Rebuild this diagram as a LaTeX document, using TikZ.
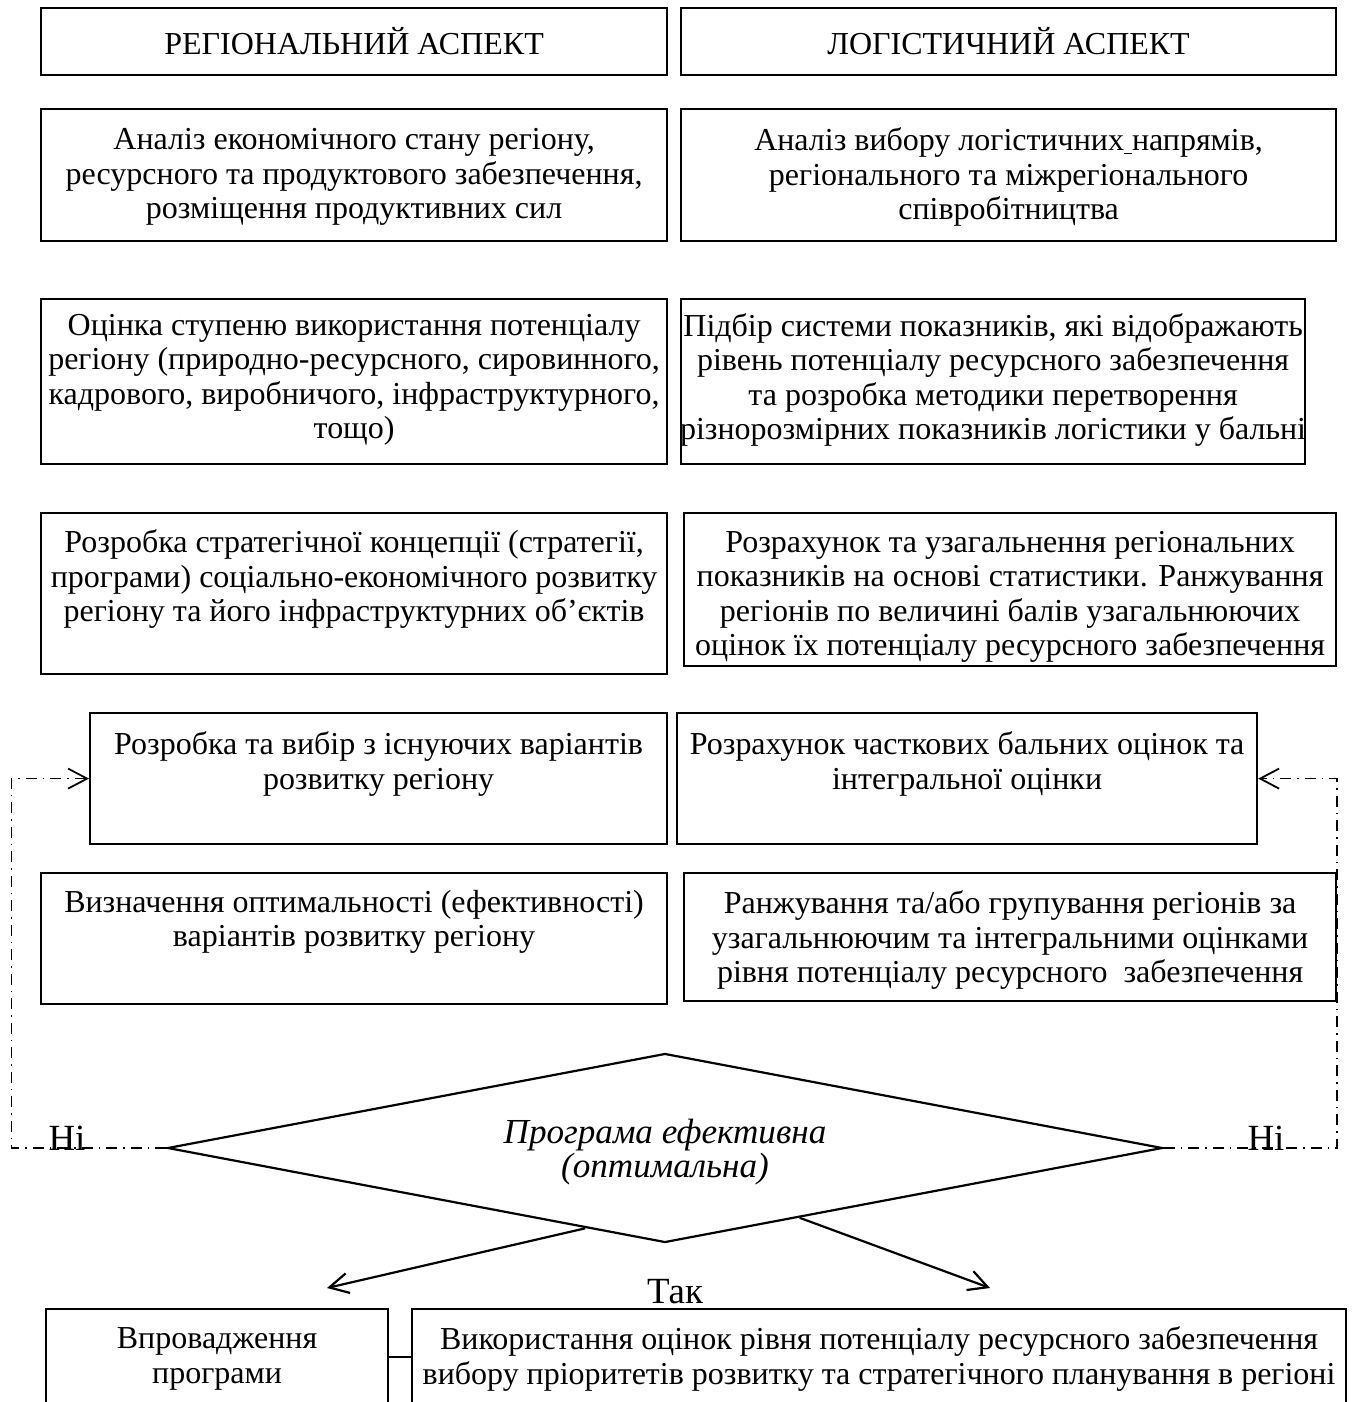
\documentclass[tikz,border=0pt]{standalone}
\usepackage{fontspec}
\setmainfont{Liberation Serif}
\usetikzlibrary{arrows.meta,calc,shapes.geometric}

\begin{document}
\begin{tikzpicture}[x=0.2mm, y=-0.2mm, line width=1.25pt,
        >={Straight Barb[length=3.8mm,width=4mm]},
        box/.style={draw, inner sep=0pt, anchor=north west},
        txt/.style={font=\fontsize{18.2}{19.6}\selectfont, align=center, inner sep=0pt},
        big/.style={font=\fontsize{21}{24}\selectfont, inner sep=0pt},
        fb/.style={line width=1pt, dash pattern=on 2.2mm off 1.2mm on 0.3mm off 1.2mm}]

    \useasboundingbox (0,0) rectangle (1352,1402);

    % --- ramki: nazwa / lewy górny róg / prawy dolny róg (w pikselach) ---
    \foreach \n/\xa/\ya/\xb/\yb in {%
        rl1/40/7/666/74,     rr1/680/7/1335/74,
        rl2/40/108/666/240,  rr2/680/108/1335/240,
        rl3/40/298/666/463,  rr3/680/298/1304/463,
        rl4/40/512/666/673,  rr4/683/512/1335/665,
        rl5/89/712/666/843,  rr5/676/712/1256/843,
        rl6/40/872/666/1003, rr6/683/872/1335/1000,
        bl/45/1308/387/1404, br/411/1308/1345/1404} {
        \node[box, minimum width={(\xb-\xa)*0.2mm}, minimum height={(\yb-\ya)*0.2mm}] (\n) at (\xa,\ya) {};
    }

    % --- aspekt regionalny ---
    \node[txt] (tl1) at (rl1.center) {РЕГІОНАЛЬНИЙ АСПЕКТ};
    \node[txt] (tl2) at ($(rl2.north)+(0,69)$) {Аналіз економічного стану регіону,\\ ресурсного та продуктового забезпечення,\\ розміщення продуктивних сил};
    \node[txt] (tl3) at ($(rl3.north)+(0,82)$) {Оцінка ступеню використання потенціалу\\ регіону (природно-ресурсного, сировинного,\\ кадрового, виробничого, інфраструктурного,\\ тощо)};
    \node[txt] (tl4) at ($(rl4.north)+(0,67)$) {Розробка стратегічної концепції (стратегії,\\ програми) соціально-економічного розвитку\\ регіону та його інфраструктурних об’єктів};
    \node[txt] (tl5) at ($(rl5.north)+(0,52)$) {Розробка та вибір з існуючих варіантів\\ розвитку регіону};
    \node[txt] (tl6) at ($(rl6.north)+(0,50)$) {Визначення оптимальності (ефективності)\\ варіантів розвитку регіону};

    % --- aspekt logistyczny ---
    \node[txt] (tr1) at (rr1.center) {ЛОГІСТИЧНИЙ АСПЕКТ};
    \node[txt] (tr2) at ($(rr2.north)+(0,69)$) {Аналіз вибору логістичних\underline{\ }напрямів,\\ регіонального та міжрегіонального\\ співробітництва};
    \node[txt] (tr3) at ($(rr3.north)+(0,82)$) {Підбір системи показників, які відображають\\ рівень потенціалу ресурсного забезпечення\\ та розробка методики перетворення\\ різнорозмірних показників логістики у бальні};
    \begin{scope}
        \clip (rr4.north west) rectangle (rr4.south east);
        \node[txt] (tr4) at ($(rr4.north)+(0,85)$) {Розрахунок та узагальнення регіональних\\ показників на основі статистики. Ранжування\\ регіонів по величині балів узагальнюючих\\ оцінок їх потенціалу ресурсного забезпечення};
    \end{scope}
    \node[txt] (tr5) at ($(rr5.north)+(0,52)$) {Розрахунок часткових бальних оцінок та\\ інтегральної оцінки};
    \node[txt] (tr6) at ($(rr6.north)+(0,68)$) {Ранжування та/або групування регіонів за\\ узагальнюючим та інтегральними оцінками\\ рівня потенціалу ресурсного\ \ забезпечення};

    % --- warunek ---
    \node[draw, diamond, shape aspect=5.26, minimum width=199mm, minimum height=37.8mm,
          inner sep=0pt] (romb) at (665,1148) {};
    \node[txt, font=\fontsize{20}{19.6}\selectfont\itshape] (tw) at ($(romb.center)+(0,4)$)
          {Програма ефективна\\ (оптимальна)};

    % --- powroty (Ні) ---
    \draw[fb, ->] (romb.west) -- ++(-155,0) |- (rl5.west);
    \draw[fb, ->] (romb.east) -- ++(173,0) |- (rr5.east);
    \node[big, anchor=base] (nl) at (67,1150) {Ні};
    \node[big, anchor=base] (nr) at (1266,1150) {Ні};

    % --- wyjście (Так) ---
    \coordinate (vl) at (327,1288);
    \coordinate (vr) at (990,1288);
    \draw[->] ($(romb.south)!0.16!(romb.west)$) -- (vl);
    \draw[->] ($(romb.south)!0.27!(romb.east)$) -- (vr);
    \node[big, anchor=base] (tak) at (675,1303) {Так};

    \node[txt] (tb1) at ($(bl.north)+(0,51)$) {Впровадження\\ програми};
    \node[txt] (tb2) at ($(br.north)+(0,51)$) {Використання оцінок рівня потенціалу ресурсного забезпечення\\ вибору пріоритетів розвитку та стратегічного планування в регіоні};
    \draw (bl.east) -- (br.west);

\end{tikzpicture}
\end{document}
